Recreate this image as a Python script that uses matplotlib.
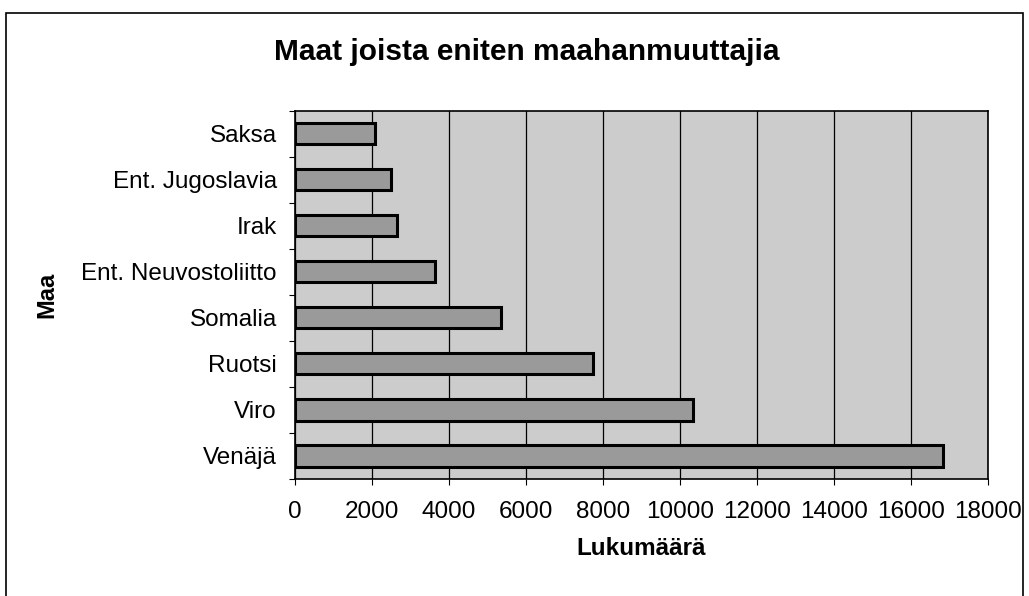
#!/usr/bin/env python3
"""Horizontal bar chart: countries with most immigrants."""

import matplotlib
matplotlib.use("Agg")
import matplotlib.pyplot as plt
from matplotlib.patches import Rectangle
import numpy as np

plt.rcParams["font.family"] = ["Liberation Sans", "DejaVu Sans"]

# top to bottom as shown in the chart
COUNTRIES = ["Saksa", "Ent. Jugoslavia", "Irak", "Ent. Neuvostoliitto",
             "Somalia", "Ruotsi", "Viro", "Venäjä"]
COUNTS = [2080, 2490, 2660, 3640, 5350, 7750, 10330, 16840]
X_TICKS = [0, 2000, 4000, 6000, 8000, 10000, 12000, 14000, 16000, 18000]

TITLE = "Maat joista eniten maahanmuuttajia"
X_LABEL = "Lukumäärä"
Y_LABEL = "Maa"


def main():
    fig = plt.figure(figsize=(10.29, 5.96), dpi=100)
    fig.patch.set_facecolor("white")

    # outer chart border
    fig.patches.append(Rectangle((0.006, -0.01), 0.988, 0.989, transform=fig.transFigure,
                                 fill=False, edgecolor="black", linewidth=1.2))

    ax = fig.add_axes([0.2867, 0.1963, 0.6735, 0.618])
    ax.set_facecolor("#cccccc")

    # bottom-up positions so first country is on top
    y = np.arange(len(COUNTRIES))[::-1]
    ax.barh(y, COUNTS, height=0.46, color="#9a9a9a", edgecolor="black",
            linewidth=2.2, zorder=3)

    ax.set_xlim(0, 18000)
    ax.set_ylim(-0.5, len(COUNTRIES) - 0.5)
    ax.set_xticks(X_TICKS)
    ax.set_xticklabels([str(v) for v in X_TICKS], fontsize=17.5)
    ax.set_yticks(y)
    ax.set_yticklabels(COUNTRIES, fontsize=17.5)
    ax.set_yticks(np.arange(len(COUNTRIES) + 1) - 0.5, minor=True)

    ax.tick_params(axis="y", which="major", length=0, pad=13)
    ax.tick_params(axis="y", which="minor", length=4, width=0.8, direction="out")
    ax.tick_params(axis="x", which="major", length=4, width=0.8, direction="out", pad=12)

    ax.grid(axis="x", color="black", linewidth=0.9, zorder=1)
    ax.set_axisbelow(True)

    for side in ["top", "right", "bottom", "left"]:
        ax.spines[side].set_color("black")
        ax.spines[side].set_linewidth(1.2)

    ax.set_xlabel(X_LABEL, fontsize=17.5, fontweight="bold")
    ax.xaxis.set_label_coords(0.5, -0.19)
    ax.xaxis.label.set_va("center")
    ax.set_ylabel(Y_LABEL, fontsize=17, fontweight="bold")
    ax.yaxis.set_label_coords(-0.358, 0.5)
    ax.yaxis.label.set_va("center")

    fig.text(0.512, 0.8993, TITLE, ha="center", va="baseline",
             fontsize=21.5, fontweight="bold")

    plt.savefig("out.png", dpi=100, facecolor="white")
    plt.close()


if __name__ == "__main__":
    main()
